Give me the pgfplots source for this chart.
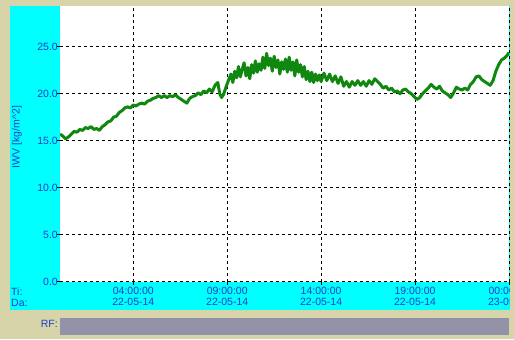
\documentclass[border=0pt]{standalone}
\usepackage{pgfplots}
\pgfplotsset{compat=1.18}
\usepackage{fontspec}
\setmainfont{Liberation Sans}
\definecolor{beige}{RGB}{216,212,170}
\definecolor{cyanbg}{RGB}{0,255,255}
\definecolor{rfgray}{RGB}{146,146,168}
\definecolor{lbl}{RGB}{30,60,200}
\definecolor{lgreen}{RGB}{16,136,16}
\newcommand\lblfont{\fontsize{10.5bp}{11bp}\selectfont}
\pgfplotstableread{
h v
0.10 15.7
0.25 15.5
0.40 15.2
0.55 15.4
0.70 15.7
0.85 16.0
1.00 15.9
1.15 16.2
1.30 16.1
1.45 16.4
1.60 16.3
1.75 16.5
1.90 16.2
2.05 16.3
2.20 16.1
2.35 16.5
2.50 16.7
2.65 17.0
2.80 17.1
2.95 17.5
3.10 17.6
3.25 18.0
3.40 18.2
3.55 18.5
3.70 18.6
3.85 18.5
4.00 18.8
4.15 18.7
4.30 18.9
4.45 19.0
4.60 18.9
4.75 19.2
4.90 19.3
5.05 19.5
5.20 19.6
5.35 19.8
5.50 19.6
5.65 19.8
5.80 19.6
5.95 19.8
6.10 19.7
6.25 19.9
6.40 19.6
6.55 19.4
6.70 19.2
6.85 19.0
7.00 19.5
7.15 19.7
7.30 19.8
7.45 20.1
7.60 19.9
7.75 20.3
7.90 20.1
8.05 20.5
8.20 20.2
8.35 20.9
8.50 21.2
8.60 20.0
8.70 19.6
8.80 19.9
8.95 20.8
9.10 21.6
9.20 22.1
9.30 21.2
9.40 22.4
9.50 21.7
9.60 22.9
9.70 21.8
9.80 22.6
9.90 23.3
10.00 21.9
10.10 22.8
10.20 21.6
10.30 23.1
10.40 22.2
10.50 23.5
10.60 22.3
10.70 23.2
10.80 22.5
10.90 23.9
11.00 22.7
11.10 24.3
11.20 23.0
11.30 23.8
11.40 22.4
11.50 24.0
11.60 22.8
11.70 23.6
11.80 22.1
11.90 23.4
12.00 22.6
12.10 23.7
12.20 22.3
12.30 23.9
12.40 22.5
12.50 23.4
12.60 21.9
12.70 23.6
12.80 22.3
12.90 23.1
13.00 21.8
13.10 22.9
13.20 21.5
13.30 22.4
13.40 21.3
13.50 22.3
13.60 21.2
13.70 22.1
13.80 21.4
13.90 22.0
14.00 21.3
14.15 22.2
14.30 21.4
14.45 22.1
14.60 21.3
14.75 21.9
14.90 21.1
15.05 21.8
15.20 20.8
15.35 21.3
15.50 20.7
15.65 21.3
15.80 20.9
15.95 21.4
16.10 20.9
16.25 21.3
16.40 20.8
16.55 21.4
16.70 21.0
16.85 21.6
17.00 21.3
17.15 21.0
17.30 20.6
17.45 20.8
17.60 20.4
17.75 20.6
17.90 20.2
18.05 20.3
18.20 20.0
18.35 20.4
18.50 20.5
18.65 20.2
18.80 20.0
18.95 19.7
19.10 19.4
19.25 19.6
19.40 20.0
19.55 20.3
19.70 20.6
19.85 21.0
20.00 20.7
20.15 20.5
20.30 20.8
20.45 20.3
20.60 20.1
20.75 19.9
20.90 19.6
21.05 20.1
21.20 20.7
21.35 20.5
21.50 20.4
21.65 20.6
21.80 20.4
21.95 21.0
22.10 21.3
22.25 21.8
22.40 21.9
22.55 21.5
22.70 21.3
22.85 21.1
23.00 20.9
23.15 21.4
23.30 22.4
23.45 23.1
23.60 23.6
23.75 23.8
23.90 24.1
24.00 24.4
}\iwv
\begin{document}
\begin{tikzpicture}[x=1bp,y=1bp]
\useasboundingbox (0,0) rectangle (514,339);
\fill[beige] (0,0) rectangle (514,339);
\fill[cyanbg] (10,29) rectangle (510,333);
\fill[rfgray] (60,4) rectangle (509,21.3);
\node[anchor=base east, text=lbl, font=\lblfont, inner sep=0pt] at (58,11.7) {RF:};
\node[anchor=base west, text=lbl, font=\lblfont, inner sep=0pt] at (11,44) {Ti:};
\node[anchor=base west, text=lbl, font=\lblfont, inner sep=0pt] at (11,33) {Da:};
\node[rotate=90, text=lbl, font=\lblfont, inner sep=0pt] at (17,202) {IWV [kg/m\textasciicircum 2]};
\begin{axis}[
  at={(60bp,57.5bp)}, anchor=south west,
  scale only axis, width=449bp, height=275.5bp,
  xmin=0.1, xmax=24, ymin=0, ymax=29.35,
  axis background/.style={fill=white},
  axis line style={draw=none},
  xtick={4,9,14,19,24},
  xticklabels={{04:00:00\\22-05-14},{09:00:00\\22-05-14},{14:00:00\\22-05-14},{19:00:00\\22-05-14},{00:00:00\\23-05-14}},
  ytick={0,5,10,15,20,25},
  yticklabels={0.0,5.0,10.0,15.0,20.0,25.0},
  xtick pos=bottom, ytick pos=left,
  tick align=outside, major tick length=3bp,
  tick style={black, line width=0.8bp},
  grid=major,
  major grid style={black, line width=0.8bp, dash pattern=on 3bp off 3bp},
  xticklabel style={align=center, text=lbl, font=\lblfont, inner sep=0pt, anchor=north, yshift=-2bp},
  yticklabel style={text=lbl, font=\lblfont, inner sep=0pt, anchor=east, xshift=1bp},
]
\addplot[lgreen, line width=3bp, line join=round] table[x=h, y=v] {\iwv};
\end{axis}
\fill[beige] (510,0) rectangle (514,339);
\end{tikzpicture}
\end{document}
